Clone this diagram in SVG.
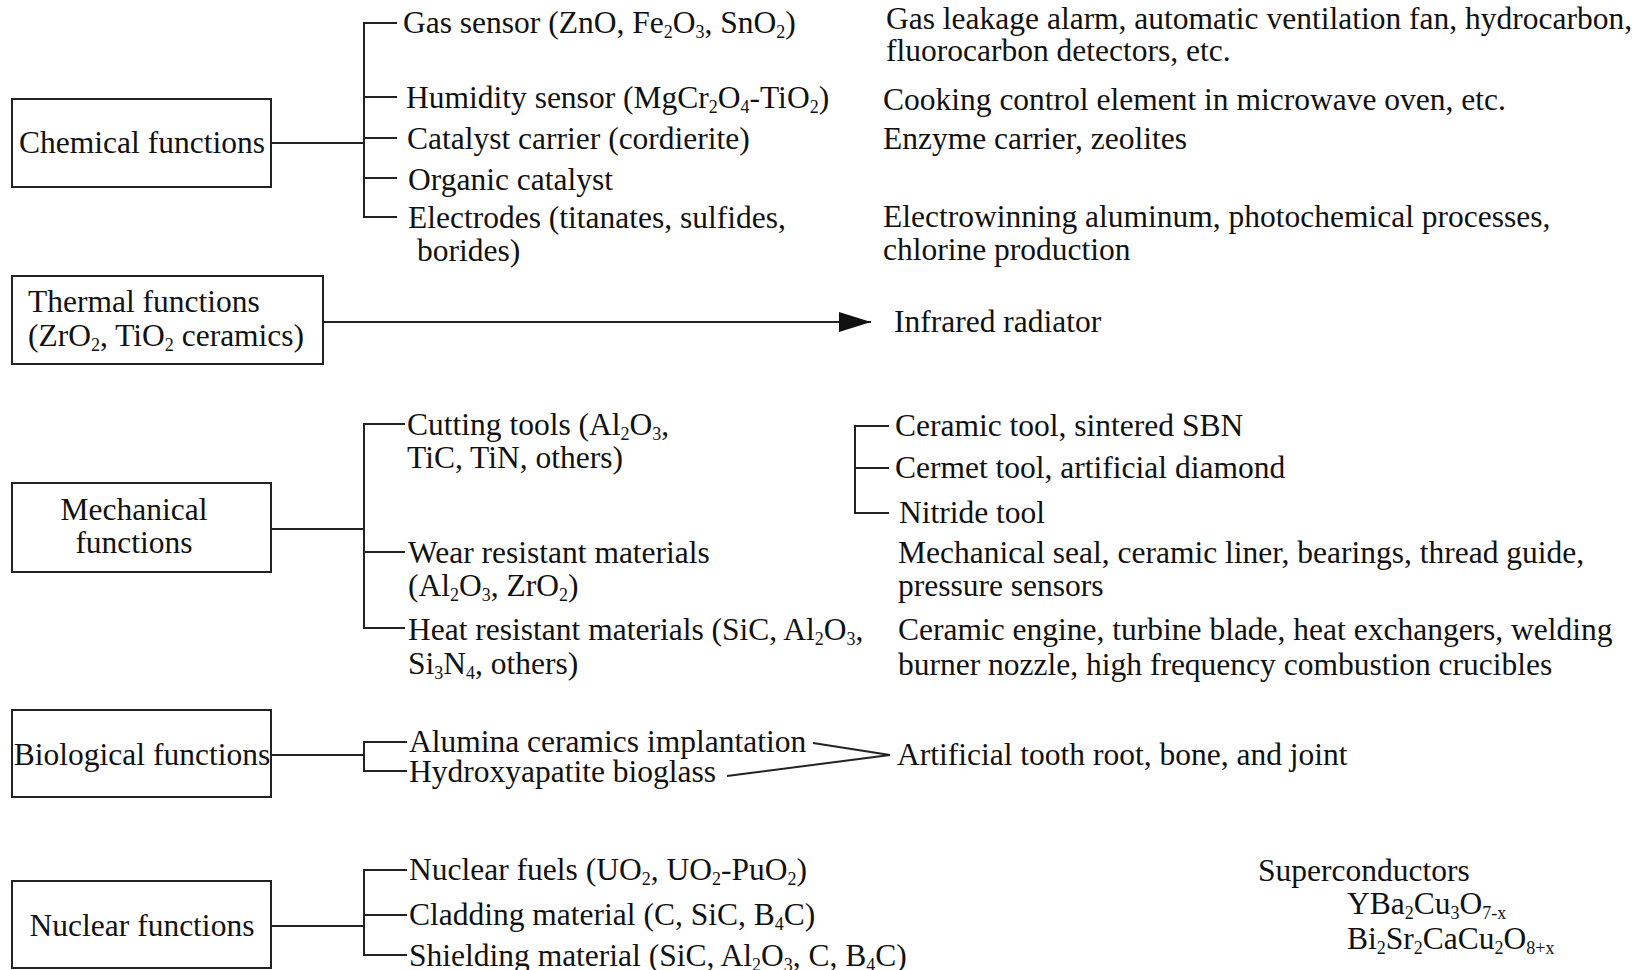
<svg xmlns="http://www.w3.org/2000/svg" width="1645" height="970" viewBox="0 0 1645 970">
  <style>
    text { font-family: "Liberation Serif", "Times New Roman", serif; font-size: 31.5px; fill: #111; }
    .s { font-size: 18px; }
    .box { fill: #fff; stroke: #222; stroke-width: 2; }
    .ln { fill: none; stroke: #222; stroke-width: 2; }
    .mid { text-anchor: middle; }
  </style>
  <defs>
    <marker id="arrow" viewBox="0 0 32 20" refX="32" refY="10" markerWidth="32" markerHeight="20" markerUnits="userSpaceOnUse" orient="auto">
      <path d="M0,0 L32,10 L0,20 Z" fill="#111"/>
    </marker>
  </defs>
  <rect width="1645" height="970" fill="#fff"/>

  <!-- connectors -->
  <g id="connectors">
    <!-- chemical -->
    <path class="ln" d="M271,143 H364 M397,23 H364 V217 H397 M364,97 H397 M364,138 H397 M364,178 H397"/>
    <!-- thermal -->
    <path class="ln" d="M323,322 H871" marker-end="url(#arrow)"/>
    <!-- mechanical -->
    <path class="ln" d="M271,529 H364 M405,424 H364 V628 H405 M364,552 H405"/>
    <path class="ln" d="M889,426 H855 V513 H889 M855,468 H889"/>
    <!-- biological -->
    <path class="ln" d="M271,755 H364 M407,742 H364 V771 H407"/>
    <path class="ln" d="M813,743 L890,755 L727,776"/>
    <!-- nuclear -->
    <path class="ln" d="M271,926 H364 M407,870 H364 V955 H407 M364,915 H407"/>
  </g>

  <!-- chemical functions -->
  <g id="chemical">
    <rect class="box" x="12" y="99" width="259" height="88"/>
    <text class="mid" x="142" y="153">Chemical functions</text>
    <text x="403" y="33">Gas sensor (ZnO, Fe<tspan class="s" dy="5">2</tspan><tspan dy="-5">O</tspan><tspan class="s" dy="5">3</tspan><tspan dy="-5">, SnO</tspan><tspan class="s" dy="5">2</tspan><tspan dy="-5">)</tspan></text>
    <text x="406" y="108">Humidity sensor (MgCr<tspan class="s" dy="5">2</tspan><tspan dy="-5">O</tspan><tspan class="s" dy="5">4</tspan><tspan dy="-5">-TiO</tspan><tspan class="s" dy="5">2</tspan><tspan dy="-5">)</tspan></text>
    <text x="407" y="149">Catalyst carrier (cordierite)</text>
    <text x="408" y="190">Organic catalyst</text>
    <text x="408" y="228">Electrodes (titanates, sulfides,</text>
    <text x="417" y="261">borides)</text>
    <text x="886" y="29">Gas leakage alarm, automatic ventilation fan, hydrocarbon,</text>
    <text x="886" y="61">fluorocarbon detectors, etc.</text>
    <text x="883" y="110">Cooking control element in microwave oven, etc.</text>
    <text x="883" y="149">Enzyme carrier, zeolites</text>
    <text x="883" y="227">Electrowinning aluminum, photochemical processes,</text>
    <text x="883" y="260">chlorine production</text>
  </g>

  <!-- thermal functions -->
  <g id="thermal">
    <rect class="box" x="12" y="276" width="311" height="88"/>
    <text x="28" y="312">Thermal functions</text>
    <text x="28" y="346">(ZrO<tspan class="s" dy="5">2</tspan><tspan dy="-5">, TiO</tspan><tspan class="s" dy="5">2</tspan><tspan dy="-5"> ceramics)</tspan></text>
    <text x="894" y="332">Infrared radiator</text>
  </g>

  <!-- mechanical functions -->
  <g id="mechanical">
    <rect class="box" x="12" y="483" width="259" height="89"/>
    <text class="mid" x="134" y="520">Mechanical</text>
    <text class="mid" x="134" y="553">functions</text>
    <text x="407" y="435">Cutting tools (Al<tspan class="s" dy="5">2</tspan><tspan dy="-5">O</tspan><tspan class="s" dy="5">3</tspan><tspan dy="-5">,</tspan></text>
    <text x="407" y="468">TiC, TiN, others)</text>
    <text x="895" y="436">Ceramic tool, sintered SBN</text>
    <text x="895" y="478">Cermet tool, artificial diamond</text>
    <text x="899" y="523">Nitride tool</text>
    <text x="408" y="563">Wear resistant materials</text>
    <text x="408" y="596">(Al<tspan class="s" dy="5">2</tspan><tspan dy="-5">O</tspan><tspan class="s" dy="5">3</tspan><tspan dy="-5">, ZrO</tspan><tspan class="s" dy="5">2</tspan><tspan dy="-5">)</tspan></text>
    <text x="408" y="640">Heat resistant materials (SiC, Al<tspan class="s" dy="5">2</tspan><tspan dy="-5">O</tspan><tspan class="s" dy="5">3</tspan><tspan dy="-5">,</tspan></text>
    <text x="408" y="674">Si<tspan class="s" dy="5">3</tspan><tspan dy="-5">N</tspan><tspan class="s" dy="5">4</tspan><tspan dy="-5">, others)</tspan></text>
    <text x="898" y="563">Mechanical seal, ceramic liner, bearings, thread guide,</text>
    <text x="898" y="596">pressure sensors</text>
    <text x="898" y="640">Ceramic engine, turbine blade, heat exchangers, welding</text>
    <text x="898" y="675">burner nozzle, high frequency combustion crucibles</text>
  </g>

  <!-- biological functions -->
  <g id="biological">
    <rect class="box" x="12" y="710" width="259" height="87"/>
    <text class="mid" x="142" y="765">Biological functions</text>
    <text x="409" y="752">Alumina ceramics implantation</text>
    <text x="409" y="782">Hydroxyapatite bioglass</text>
    <text x="897" y="765">Artificial tooth root, bone, and joint</text>
  </g>

  <!-- nuclear functions -->
  <g id="nuclear">
    <rect class="box" x="12" y="881" width="259" height="87"/>
    <text class="mid" x="142" y="936">Nuclear functions</text>
    <text x="409" y="880">Nuclear fuels (UO<tspan class="s" dy="5">2</tspan><tspan dy="-5">, UO</tspan><tspan class="s" dy="5">2</tspan><tspan dy="-5">-PuO</tspan><tspan class="s" dy="5">2</tspan><tspan dy="-5">)</tspan></text>
    <text x="409" y="925">Cladding material (C, SiC, B<tspan class="s" dy="5">4</tspan><tspan dy="-5">C)</tspan></text>
    <text x="409" y="966">Shielding material (SiC, Al<tspan class="s" dy="5">2</tspan><tspan dy="-5">O</tspan><tspan class="s" dy="5">3</tspan><tspan dy="-5">, C, B</tspan><tspan class="s" dy="5">4</tspan><tspan dy="-5">C)</tspan></text>
  </g>

  <!-- superconductors -->
  <g id="superconductors">
    <text x="1258" y="881">Superconductors</text>
    <text x="1347" y="914">YBa<tspan class="s" dy="5">2</tspan><tspan dy="-5">Cu</tspan><tspan class="s" dy="5">3</tspan><tspan dy="-5">O</tspan><tspan class="s" dy="5">7-x</tspan></text>
    <text x="1347" y="949">Bi<tspan class="s" dy="5">2</tspan><tspan dy="-5">Sr</tspan><tspan class="s" dy="5">2</tspan><tspan dy="-5">CaCu</tspan><tspan class="s" dy="5">2</tspan><tspan dy="-5">O</tspan><tspan class="s" dy="5">8+x</tspan></text>
  </g>
</svg>
